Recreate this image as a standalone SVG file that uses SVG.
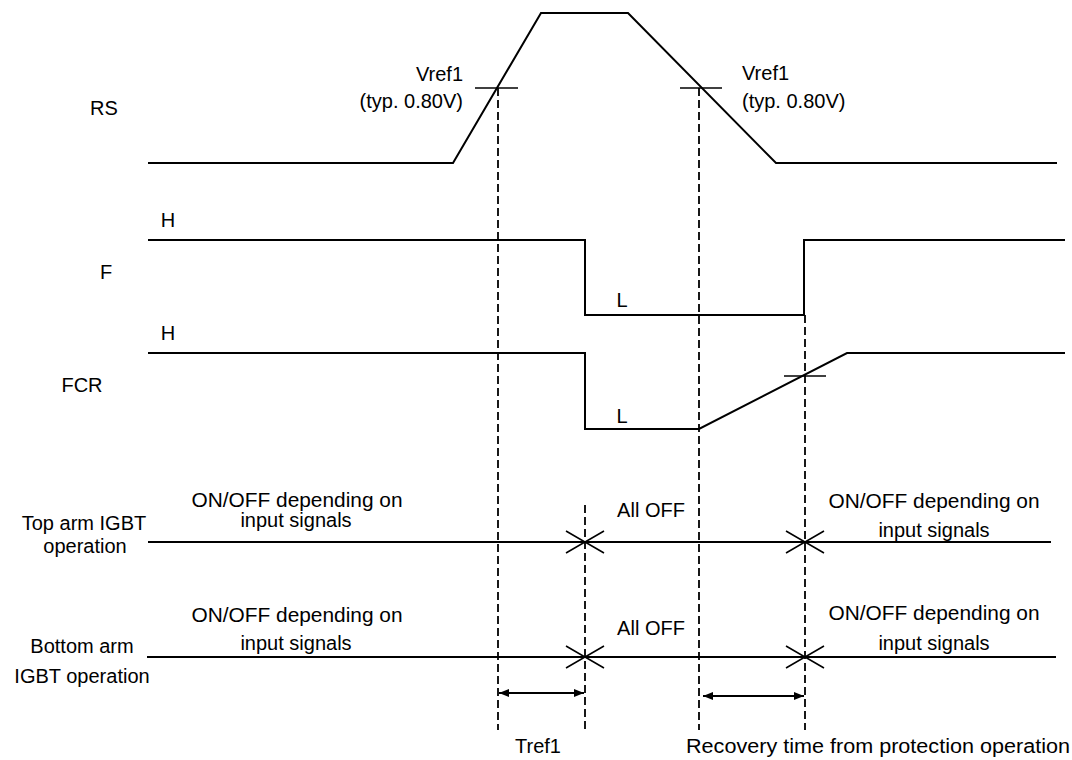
<svg xmlns="http://www.w3.org/2000/svg" width="1072" height="760" viewBox="0 0 1072 760">
  <defs>
    <style>
      text { font-family: "Liberation Sans", Arial, sans-serif; font-size: 20px; fill: #000; }
      .m { text-anchor: middle; }
      .e { text-anchor: end; }
      .sig { fill: none; stroke: #000; stroke-width: 2; stroke-linejoin: miter; }
      .dash { fill: none; stroke: #000; stroke-width: 1.8; stroke-dasharray: 8 4; }
      .thin { fill: none; stroke: #000; stroke-width: 1.6; }
      .dim { fill: none; stroke: #000; stroke-width: 2; marker-start: url(#ah); marker-end: url(#ah); }
    </style>
    <marker id="ah" viewBox="0 0 10 10" refX="10" refY="5" markerWidth="10" markerHeight="10" markerUnits="userSpaceOnUse" orient="auto-start-reverse">
      <path d="M0,1 L10,5 L0,9 Z" fill="#000"/>
    </marker>
  </defs>
  <rect width="1072" height="760" fill="#fff"/>

  <g id="rs">
    <text x="104" y="115" class="m">RS</text>
    <polyline class="sig" points="148,163 453,163 541,13 628,13 776,163 1057,163"/>
    <line class="thin" x1="475" y1="88" x2="518" y2="88"/>
    <line class="thin" x1="680" y1="88" x2="722" y2="88"/>
    <text x="463" y="81" class="e">Vref1</text>
    <text x="463" y="108" class="e">(typ. 0.80V)</text>
    <text x="742" y="80">Vref1</text>
    <text x="742" y="108">(typ. 0.80V)</text>
  </g>

  <g id="f">
    <text x="106" y="279" class="m">F</text>
    <text x="168" y="227" class="m">H</text>
    <polyline class="sig" points="148,240 585,240 585,315 804,315 804,240 1065,240"/>
    <text x="622" y="307" class="m">L</text>
  </g>

  <g id="fcr">
    <text x="82" y="392" class="m">FCR</text>
    <text x="168" y="340" class="m">H</text>
    <polyline class="sig" points="148,353 585,353 585,429 699,429 847,353 1065,353"/>
    <text x="622" y="423" class="m">L</text>
    <line class="thin" x1="784" y1="376" x2="826" y2="376"/>
  </g>

  <g id="top-arm">
    <text x="84" y="530" class="m">Top arm IGBT</text>
    <text x="85" y="553" class="m">operation</text>
    <line class="sig" x1="148" y1="542" x2="1051" y2="542"/>
    <text x="297" y="507" class="m" textLength="211" lengthAdjust="spacingAndGlyphs">ON/OFF depending on</text>
    <text x="296" y="527" class="m">input signals</text>
    <text x="651" y="517" class="m">All OFF</text>
    <text x="934" y="508" class="m" textLength="211" lengthAdjust="spacingAndGlyphs">ON/OFF depending on</text>
    <text x="934" y="537" class="m">input signals</text>
    <path class="thin" d="M566,531 L585,542 L566,553 M604,531 L585,542 L604,553"/>
    <path class="thin" d="M786,531 L805,542 L786,553 M824,531 L805,542 L824,553"/>
  </g>

  <g id="bottom-arm">
    <text x="82" y="653" class="m">Bottom arm</text>
    <text x="82" y="683" class="m">IGBT operation</text>
    <line class="sig" x1="147" y1="657" x2="1056" y2="657"/>
    <text x="297" y="622" class="m" textLength="211" lengthAdjust="spacingAndGlyphs">ON/OFF depending on</text>
    <text x="296" y="650" class="m">input signals</text>
    <text x="651" y="635" class="m">All OFF</text>
    <text x="934" y="620" class="m" textLength="211" lengthAdjust="spacingAndGlyphs">ON/OFF depending on</text>
    <text x="934" y="650" class="m">input signals</text>
    <path class="thin" d="M566,646 L585,657 L566,668 M604,646 L585,657 L604,668"/>
    <path class="thin" d="M786,646 L805,657 L786,668 M824,646 L805,657 L824,668"/>
  </g>

  <g id="connectors">
    <line class="dash" x1="498" y1="88" x2="498" y2="730"/>
    <line class="dash" x1="585" y1="505" x2="585" y2="730"/>
    <line class="dash" x1="699" y1="88" x2="699" y2="730"/>
    <line class="dash" x1="805" y1="315" x2="805" y2="730"/>
    <line class="dim" x1="499" y1="693" x2="584" y2="693"/>
    <line class="dim" x1="703" y1="696" x2="804" y2="696"/>
  </g>

  <g id="timing-labels">
    <text x="538" y="753" class="m">Tref1</text>
    <text x="878" y="753" class="m" textLength="384" lengthAdjust="spacingAndGlyphs">Recovery time from protection operation</text>
  </g>
</svg>
